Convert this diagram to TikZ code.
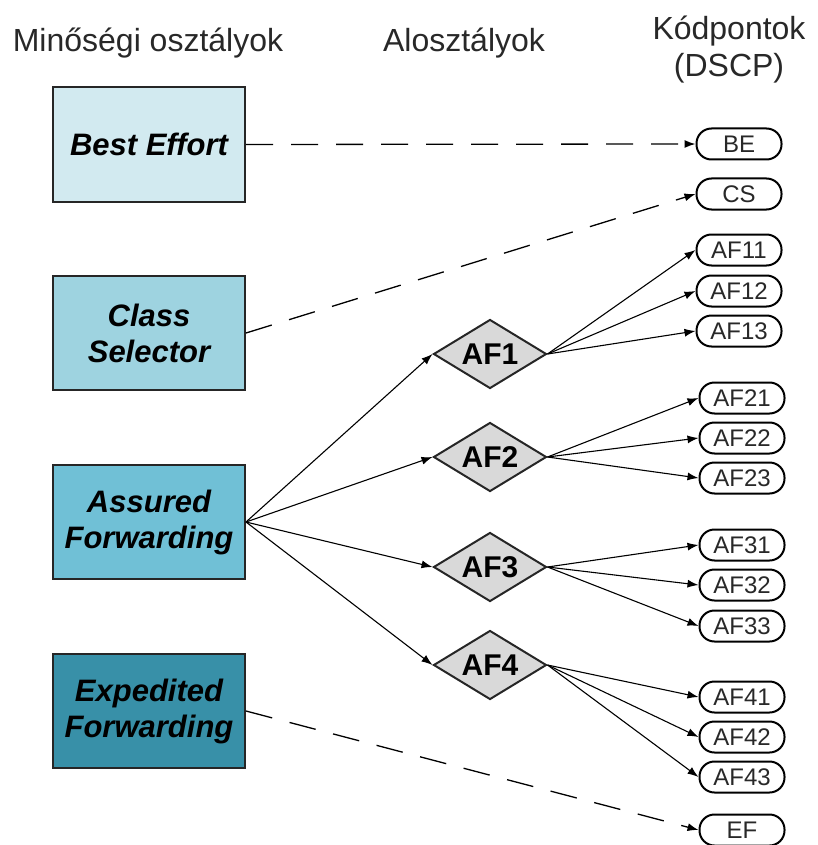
\documentclass[tikz,border=0pt]{standalone}
\usepackage{fontspec}
\setmainfont{Liberation Sans}
\usetikzlibrary{shapes.geometric,arrows.meta}
\definecolor{cBE}{RGB}{210,234,240}
\definecolor{cCS}{RGB}{158,211,224}
\definecolor{cAF}{RGB}{112,192,214}
\definecolor{cEF}{RGB}{56,144,168}
\definecolor{txt}{RGB}{40,40,40}
\definecolor{dgray}{RGB}{217,217,217}
\tikzset{
  hdr/.style={font=\fontsize{32}{37}\selectfont, text=txt, inner sep=0pt, anchor=base},
  classbox/.style={draw=black!85, line width=2pt, minimum width=192pt, minimum height=114pt, inner sep=0pt,
    align=center, font=\fontsize{31}{36}\selectfont\bfseries\itshape},
  subcls/.style={diamond, draw=black!85, fill=dgray, line width=2pt, aspect=1.6, minimum width=113pt,
    minimum height=69pt, inner sep=0pt, font=\fontsize{30}{30}\selectfont\bfseries},
  codept/.style={draw=black, line width=2pt, fill=white, rounded corners=15pt, minimum width=85pt,
    minimum height=31pt, inner sep=0pt, text=txt, font=\fontsize{24}{24}\selectfont},
  arr/.style={line width=1.1pt, -{Latex[length=11pt,width=8pt]}},
  darr/.style={line width=1.3pt, dash pattern=on 27pt off 18pt, -{Latex[length=11pt,width=8pt]}}
}
\begin{document}
\begin{tikzpicture}[x=1pt,y=-1pt]
\useasboundingbox (0,0) rectangle (818,845);
\node[hdr] (h1) at (148,52) {Minőségi osztályok};
\node[hdr] (h2) at (464,52) {Alosztályok};
\node[hdr] (h3) at (729,40) {Kódpontok};
\node[hdr] (h4) at (729,77) {(DSCP)};

\node[classbox, fill=cBE] (be) at (149,144.5) {Best Effort};
\node[classbox, fill=cCS] (cs) at (149,333) {Class\\Selector};
\node[classbox, fill=cAF] (af) at (149,522) {Assured\\Forwarding};
\node[classbox, fill=cEF] (ef) at (149,711) {Expedited\\Forwarding};

\node[subcls] (af1) at (490,354) {AF1};
\node[subcls] (af2) at (490,457) {AF2};
\node[subcls] (af3) at (490,567) {AF3};
\node[subcls] (af4) at (490,665) {AF4};

\node[codept] (pbe) at (739,144) {BE};
\node[codept] (pcs) at (739,194) {CS};
\node[codept] (p11) at (739,250) {AF11};
\node[codept] (p12) at (739,291) {AF12};
\node[codept] (p13) at (739,331) {AF13};
\node[codept] (p21) at (742,398) {AF21};
\node[codept] (p22) at (742,438) {AF22};
\node[codept] (p23) at (742,478) {AF23};
\node[codept] (p31) at (742,545) {AF31};
\node[codept] (p32) at (742,585) {AF32};
\node[codept] (p33) at (742,626) {AF33};
\node[codept] (p41) at (742,697) {AF41};
\node[codept] (p42) at (742,737) {AF42};
\node[codept] (p43) at (742,777) {AF43};
\node[codept] (pef) at (742,830) {EF};

\draw[darr] (be.east) -- (pbe.west);
\draw[darr] (cs.east) -- (pcs.west);
\draw[darr] (ef.east) -- (pef.west);

\foreach \d in {af1,af2,af3,af4} \draw[arr] (af.east) -- (\d.west);
\foreach \p in {p11,p12,p13} \draw[arr] (af1.east) -- (\p.west);
\foreach \p in {p21,p22,p23} \draw[arr] (af2.east) -- (\p.west);
\foreach \p in {p31,p32,p33} \draw[arr] (af3.east) -- (\p.west);
\foreach \p in {p41,p42,p43} \draw[arr] (af4.east) -- (\p.west);
\end{tikzpicture}
\end{document}
